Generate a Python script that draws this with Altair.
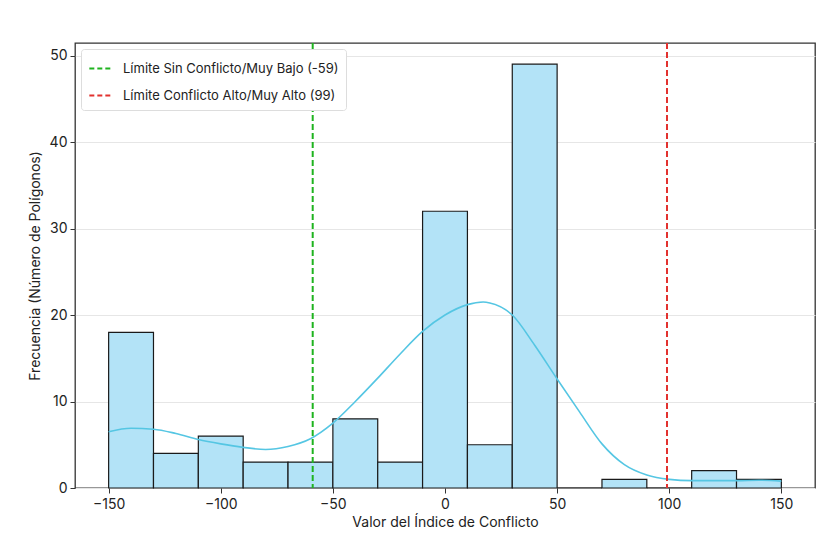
import altair as alt
import pandas as pd

# Histogram bins (value of conflict index) and counts
bin_start = [-150, -130, -110, -90, -70, -50, -30, -10, 10, 30, 50, 70, 90, 110, 130]
bin_end = [-130, -110, -90, -70, -50, -30, -10, 10, 30, 50, 70, 90, 110, 130, 150]
counts = [18, 4, 6, 3, 3, 8, 3, 32, 5, 49, 0, 1, 0, 2, 1]

# KDE curve
kde_x = [-150, -140, -130, -120, -110, -100, -90, -80, -70, -60, -50, -40, -30, -20,
         -10, 0, 10, 17, 20, 30, 40, 50, 60, 70, 80, 90, 100, 110, 120, 130, 140, 150]
kde_y = [6.5, 6.9, 6.8, 6.3, 5.6, 5.1, 4.7, 4.45, 4.8, 5.7, 7.5, 10.0, 12.7, 15.5,
         18.1, 20.0, 21.2, 21.5, 21.4, 20.0, 16.5, 12.6, 8.8, 5.1, 2.7, 1.5, 1.0,
         0.85, 0.85, 0.85, 0.9, 0.8]

# Threshold lines
limit_labels = ["Límite Sin Conflicto/Muy Bajo (-59)", "Límite Conflicto Alto/Muy Alto (99)"]
limit_values = [-59, 99]
limit_colors = ["#1fb31f", "#e2322f"]

x_ticks = [-150, -100, -50, 0, 50, 100, 150]
y_ticks = [0, 10, 20, 30, 40, 50]

hist_df = pd.DataFrame({"start": bin_start, "end": bin_end, "count": counts})
kde_df = pd.DataFrame({"x": kde_x, "y": kde_y})
lim_df = pd.DataFrame({"label": limit_labels, "value": limit_values})

FONT = "Inter"

x_scale = alt.Scale(domain=[-165, 165], nice=False, zero=False)
y_scale = alt.Scale(domain=[0, 51.45], nice=False)

x_axis = alt.Axis(values=x_ticks, title="Valor del Índice de Conflicto", grid=False,
                  labelFontSize=14, titleFontSize=14, titleFontWeight="normal",
                  tickSize=5, labelPadding=4, titlePadding=4, domain=False,
                  tickColor="#333", labelColor="#222", titleColor="#222")
y_axis = alt.Axis(values=y_ticks, title="Frecuencia (Número de Polígonos)", grid=True,
                  gridColor="#e6e6e6", labelFontSize=14, titleFontSize=14,
                  titleFontWeight="normal", tickSize=5, labelPadding=3, titlePadding=7,
                  domain=False, tickColor="#333", labelColor="#222", titleColor="#222")

bars = alt.Chart(hist_df).mark_bar(
    color="#b3e3f7", stroke="#1a1a1a", strokeWidth=1.2, opacity=1
).encode(
    x=alt.X("start:Q", scale=x_scale, axis=x_axis),
    x2="end:Q",
    y=alt.Y("count:Q", scale=y_scale, axis=y_axis),
    y2=alt.datum(0),
)

kde = alt.Chart(kde_df).mark_line(
    color="#55c6e3", strokeWidth=1.6, interpolate="monotone"
).encode(
    x=alt.X("x:Q", scale=x_scale),
    y=alt.Y("y:Q", scale=y_scale),
)

rules = alt.Chart(lim_df).mark_rule(strokeDash=[6, 3], strokeWidth=2).encode(
    x=alt.X("value:Q", scale=x_scale),
    color=alt.Color(
        "label:N",
        scale=alt.Scale(domain=limit_labels, range=limit_colors),
        legend=alt.Legend(
            title=None, orient="top-left", symbolType="stroke", symbolDash=[5, 3],
            symbolStrokeWidth=2, symbolSize=500, labelFontSize=13, labelColor="#222",
            fillColor="white", strokeColor="#dddddd", padding=7, cornerRadius=3,
            offset=6, rowPadding=7, labelLimit=400, labelOffset=10,
        ),
    ),
)

chart = alt.layer(bars, kde, rules).properties(
    width=740, height=445,
    autosize=alt.AutoSizeParams(type="none"),
    padding={"left": 67, "top": 35, "right": 4, "bottom": 44},
).configure(
    font=FONT
).configure_view(
    stroke="#333333", strokeWidth=1.3
)

chart.save("out.html", embed_options={"renderer": "svg", "actions": False})
